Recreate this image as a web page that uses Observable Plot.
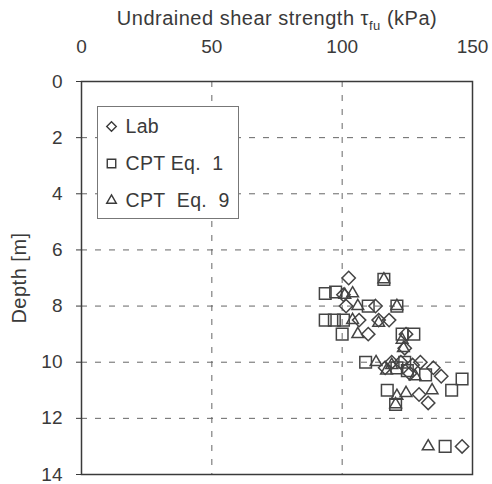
<!DOCTYPE html>
<html>
<head>
<meta charset="utf-8">
<script src="https://cdn.jsdelivr.net/npm/d3@7"></script>
<script src="https://cdn.jsdelivr.net/npm/@observablehq/plot@0.6"></script>
<style>
  html, body { margin: 0; padding: 0; background: #fff; }
  #chart { width: 492px; height: 484px; }
  #chart g[aria-label="x-axis label"] text { font-size: 20px; letter-spacing: 0.5px; }
  #chart g[aria-label="y-axis label"] text { font-size: 20px; letter-spacing: 0.5px; }
  #chart g[aria-label="text"] text { letter-spacing: 0.3px; }
</style>
</head>
<body>
<div id="chart"></div>
<script>
// ---- Data ----
const xTicks = [0, 50, 100, 150];
const yTicks = [0, 2, 4, 6, 8, 10, 12, 14];
const xGrid = [50, 100];
const yGrid = [2, 4, 6, 8, 10, 12];

const seriesNames = ["Lab", "CPT Eq. 1", "CPT Eq. 9"];
const legendLabels = ["Lab", "CPT Eq.\u00a0 1", "CPT\u00a0 Eq.\u00a0 9"];

// Lab (diamonds)
const labStrength = [102.5, 100.5, 101.5, 112.8, 106.5, 114, 118, 110, 124, 124.5, 119, 122.5, 127, 130, 135, 138, 126, 129.5, 133, 146, 116.5];
const labDepth    = [7.0,   7.6,   8.0,   8.0,   8.5,   8.5, 8.5, 9.0, 9.5, 9.0,   10.0, 10.0, 10.1, 10.0, 10.2, 10.5, 10.4, 11.15, 11.45, 13.0, 10.2];

// CPT Eq. 1 (squares)
const eq1Strength = [116, 93.5, 97.5, 110, 121, 93.5, 97, 100.5, 100, 123, 127.5, 109, 121, 125, 132, 146, 142, 117.3, 120.5, 139.5, 124];
const eq1Depth    = [7.05, 7.55, 7.5, 8.0, 8.0, 8.5,  8.5, 8.5,  9.0, 9.0, 9.0,   10.0, 10.2, 10.3, 10.45, 10.6, 11.0, 11.0, 11.5, 13.0, 10.0];

// CPT Eq. 9 (triangles)
const eq9Strength = [116, 101, 104, 106, 121, 104, 114, 106, 123, 123.5, 113, 119, 128, 121, 124.5, 134.5, 120.5, 133, 117];
const eq9Depth    = [7.05, 7.6, 7.55, 8.0, 8.0, 8.5, 8.6, 9.0, 9.2, 9.5,  10.0, 10.1, 10.5, 11.2, 11.1, 11.0, 11.5, 13.0, 10.3];

const symbols = ["diamond2", "square2", "triangle2"];
const dataR = [6, 7.4, 5.6];
const legendR = [4.3, 5.4, 4.6];

const rowsBySeries = [
  labStrength.map((v, i) => ({series: seriesNames[0], strength: v, depth: labDepth[i]})),
  eq1Strength.map((v, i) => ({series: seriesNames[1], strength: v, depth: eq1Depth[i]})),
  eq9Strength.map((v, i) => ({series: seriesNames[2], strength: v, depth: eq9Depth[i]}))
];

const ink = "#3a3a3a";
const font = "'Liberation Sans', Arial, sans-serif";

const dataMarks = rowsBySeries.map((rows, i) =>
  Plot.dot(rows, {x: "strength", y: "depth", symbol: "series", r: dataR[i], stroke: "#444", strokeWidth: 1.5, fill: "none"})
);

const legendMarks = [];
legendLabels.forEach((lab, i) => {
  const dy = 45 + i * 37;
  legendMarks.push(Plot.dot([0], {frameAnchor: "top-left", dx: 30, dy, symbol: symbols[i], r: legendR[i], stroke: ink, strokeWidth: 1.4, fill: "none"}));
  legendMarks.push(Plot.text([lab], {frameAnchor: "top-left", dx: 44, dy, textAnchor: "start", lineAnchor: "middle", fill: ink, fontSize: 19.5}));
});

const chart = Plot.plot({
  width: 492,
  height: 484,
  marginLeft: 81,
  marginRight: 20,
  marginTop: 81,
  marginBottom: 10,
  style: {fontFamily: font, fontSize: "19px", color: ink, background: "#fff"},
  x: {domain: [0, 150]},
  y: {domain: [0, 14], reverse: true},
  symbol: {domain: seriesNames, range: symbols},
  marks: [
    Plot.gridX(xGrid, {stroke: "#666", strokeOpacity: 1, strokeDasharray: "6,8", strokeWidth: 1}),
    Plot.gridY(yGrid, {stroke: "#666", strokeOpacity: 1, strokeDasharray: "6,8", strokeWidth: 1}),
    Plot.axisX(xTicks, {anchor: "top", tickSize: 0, tickPadding: 29, fontSize: 19, fill: ink,
      label: "Undrained shear strength τfu (kPa)", labelAnchor: "center", labelOffset: 71, labelArrow: "none"}),
    Plot.axisY(yTicks, {anchor: "left", tickSize: 5, tickPadding: 14, fontSize: 19, fill: ink, stroke: ink,
      label: "Depth [m]", labelAnchor: "center", labelOffset: 70, labelArrow: "none"}),
    ...dataMarks,
    Plot.frame({stroke: ink, strokeWidth: 1.5}),
    Plot.frame({insetLeft: 16, insetTop: 25, insetRight: 234, insetBottom: 256, stroke: "#777", strokeWidth: 1, fill: "#fff"}),
    ...legendMarks
  ]
});

document.getElementById("chart").appendChild(chart);

// Subscript in the x-axis label
const xl = chart.querySelector('g[aria-label="x-axis label"] text');
if (xl) {
  xl.textContent = "";
  const ns = "http://www.w3.org/2000/svg";
  const t1 = document.createElementNS(ns, "tspan"); t1.textContent = "Undrained shear strength τ";
  const t2 = document.createElementNS(ns, "tspan"); t2.textContent = "fu"; t2.setAttribute("dy", "5"); t2.setAttribute("font-size", "13");
  const t3 = document.createElementNS(ns, "tspan"); t3.textContent = " (kPa)"; t3.setAttribute("dy", "-5");
  xl.append(t1, t2, t3);
}
</script>
</body>
</html>
